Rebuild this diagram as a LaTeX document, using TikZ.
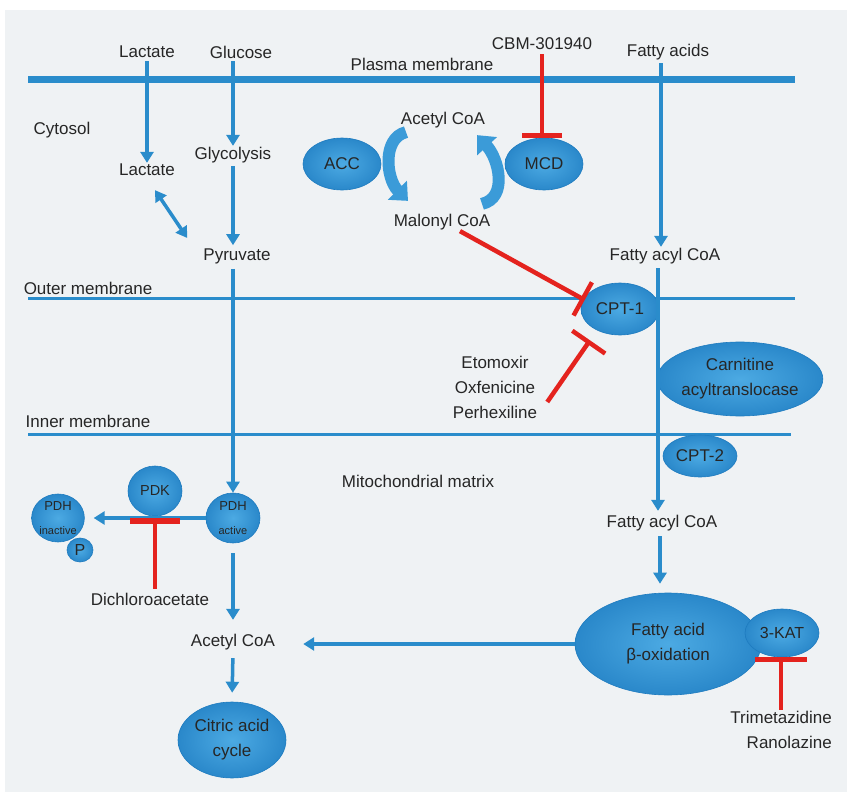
\documentclass[tikz,border=0pt]{standalone}
\usepackage{fontspec}
\setmainfont{Liberation Sans}
\usetikzlibrary{arrows.meta,shapes.geometric}
\definecolor{bgc}{HTML}{EFF2F4}
\definecolor{lblue}{HTML}{2A8CCB}
\definecolor{eblue}{HTML}{3B9BD8}
\definecolor{ein}{HTML}{4CAAE3}
\definecolor{eout}{HTML}{2A88CA}
\definecolor{edark}{HTML}{1E7BBF}
\definecolor{rred}{HTML}{E4231E}
\definecolor{txt}{HTML}{262626}
\begin{document}
\begin{tikzpicture}[x=1pt,y=-1pt,
  lbl/.style={text=txt, font=\fontsize{17}{25}\selectfont, inner sep=1pt},
  arr/.style={draw=lblue, line width=3.5pt, -{Triangle[width=13pt,length=11pt]}},
  dbl/.style={draw=lblue, line width=3.5pt, {Triangle[width=13pt,length=11pt]}-{Triangle[width=13pt,length=11pt]}},
  memb/.style={draw=lblue, line width=3pt},
  fat/.style={draw=eblue, line width=12pt, -{Triangle[width=26pt,length=15pt]}},
  enz/.style={ellipse, inner sep=0pt, draw=edark, line width=0.6pt, inner color=ein, outer color=eout, text=txt, align=center, font=\fontsize{17}{25}\selectfont},
  inh/.style={draw=rred, line width=4.5pt},
]
\useasboundingbox (0,0) rectangle (847,792);
\fill[white] (0,0) rectangle (847,792);
\fill[bgc] (5,10) rectangle (847,792);

% membranes
\draw[draw=lblue, line width=7pt] (28,80) -- (795,80);
\draw[memb] (28,298) -- (795,298);
\draw[memb] (28,434) -- (791,434);

% labels
\node[lbl] (lac0) at (147,52) {Lactate};
\node[lbl] (glc) at (241,52) {Glucose};
\node[lbl] (cbm) at (542,44) {CBM-301940};
\node[lbl] (fa) at (668,52) {Fatty acids};
\node[lbl] (pm) at (422,64) {Plasma membrane};
\node[lbl] (cyt) at (62,130) {Cytosol};
\node[lbl] (lac1) at (147,170) {Lactate};
\node[lbl] (gly) at (233,155) {Glycolysis};
\node[lbl] (pyr) at (237,256) {Pyruvate};
\node[lbl] (acoa1) at (443,120) {Acetyl CoA};
\node[lbl] (mal) at (442,222) {Malonyl CoA};
\node[lbl] (fac1) at (665,256) {Fatty acyl CoA};
\node[lbl] (om) at (88,288) {Outer membrane};
\node[lbl] (im) at (88,421) {Inner membrane};
\node[lbl] (mm) at (418,481) {Mitochondrial matrix};
\node[lbl, align=center] (eto) at (495,387) {Etomoxir\\Oxfenicine\\Perhexiline};
\node[lbl] (fac2) at (662,523) {Fatty acyl CoA};
\node[lbl] (dca) at (150,599) {Dichloroacetate};
\node[lbl] (acoa2) at (233,642) {Acetyl CoA};
\node[lbl, align=right, anchor=east] (tri) at (833,729.5) {Trimetazidine\\Ranolazine};

% enzymes
\node[enz, minimum width=78pt, minimum height=52pt] (acc) at (342,164) {ACC};
\node[enz, minimum width=78pt, minimum height=52pt] (mcd) at (544,164) {MCD};
\node[enz, minimum width=78pt, minimum height=52pt] (cpt1) at (620,309) {CPT-1};
\node[enz, minimum width=154pt, minimum height=74pt] (cat) at (740,379) {Carnitine\\acyltranslocase};
\node[enz, minimum width=74pt, minimum height=42pt] (cpt2) at (700,456) {CPT-2};
\node[enz, minimum width=54pt, minimum height=50pt, font=\fontsize{14.5}{16}\selectfont] (pdk) at (155,491) {PDK};
\node[enz, minimum width=54pt, minimum height=50pt] (pdha) at (233,518) {\fontsize{13}{14}\selectfont PDH\\[-1pt]\fontsize{11}{11}\selectfont active};
\node[enz, minimum width=52pt, minimum height=48pt] (pdhi) at (58,518) {\fontsize{13}{14}\selectfont PDH\\[-1pt]\fontsize{11}{11}\selectfont inactive};
\node[enz, minimum width=26pt, minimum height=24pt, font=\fontsize{16}{18}\selectfont] (pp) at (80,550) {P};
\node[enz, minimum width=186pt, minimum height=102pt] (fao) at (668,644) {Fatty acid\\β-oxidation};
\node[enz, minimum width=74pt, minimum height=48pt, font=\fontsize{16}{18}\selectfont] (kat) at (782,633) {3-KAT};
\node[enz, minimum width=108pt, minimum height=76pt] (cac) at (232,740) {Citric acid\\cycle};

% cytosolic arrows
\draw[arr, shorten <=2pt] (lac0) -- (lac1);
\draw[arr, shorten <=2pt] (gly.north |- glc.south) -- (gly.north);
\draw[arr, shorten <=2pt, shorten >=2pt] (gly.south) -- (gly.south |- pyr.north);
\draw[dbl] ([xshift=8pt,yshift=-13pt]lac1.south) -- ([xshift=-15pt,yshift=18pt]pyr.west);
\draw[arr, shorten <=4pt] (pyr.south -| pdha.north) -- (pdha.north);

% ACC / MCD fat arrows
\draw[fat] ([xshift=-37pt,yshift=-3pt]acoa1.south) .. controls +(-24,6) and +(-22,-22) .. ([xshift=-34pt,yshift=12pt]mal.north);
\draw[fat] ([xshift=40pt,yshift=9pt]mal.north) .. controls +(26,-6) and +(22,24) .. ([xshift=34pt,yshift=-6pt]acoa1.south);

% fatty acid path
\draw[arr, shorten <=2pt] ([xshift=-7pt]fa.south) -- ([xshift=-7pt]fa.south |- fac1.north);
\draw[arr, shorten <=3pt, shorten >=3pt] ([xshift=-7pt]fac1.south) -- ([xshift=-7pt]fac1.south |- fac2.north);
\draw[arr, shorten <=4pt] ([xshift=-2pt]fac2.south) -- ([xshift=-2pt,yshift=9pt]fac2.south |- fao.north);
\draw[arr, shorten >=27pt] (fao.west) -- (fao.west -| acoa2.east);

% PDH
\draw[arr, shorten >=9pt] (pdha.west) -- (pdhi.east);
\draw[arr, shorten <=10pt, shorten >=13pt] (pdha.south) -- (acoa2.north);
\draw[arr, shorten <=7pt, shorten >=9pt] (acoa2.south) -- (cac.north);

% inhibitions
\draw[inh, -{Bar[width=40pt]}, shorten <=3pt] (cbm.south) -- (cbm.south |- mcd.north);
\coordinate (m1) at ([xshift=4pt,yshift=9pt]cpt1.west);
\draw[inh, -{Bar[width=38pt]}] ([xshift=18pt]mal.south) -- (m1);
\draw[inh, -{Bar[width=40pt]}] ([xshift=9pt,yshift=-15pt]eto.east) -- ([xshift=-30pt,yshift=-5pt]cpt1.south);
\draw[inh, -{Bar[width=50pt,line width=6pt]}, shorten <=3pt] ([xshift=5pt]dca.north) -- ([xshift=5pt]dca.north |- pdha.west);
\draw[inh, -{Bar[width=52pt,line width=5pt]}] (tri.north) -- (tri.north |- kat.south);
\end{tikzpicture}
\end{document}
